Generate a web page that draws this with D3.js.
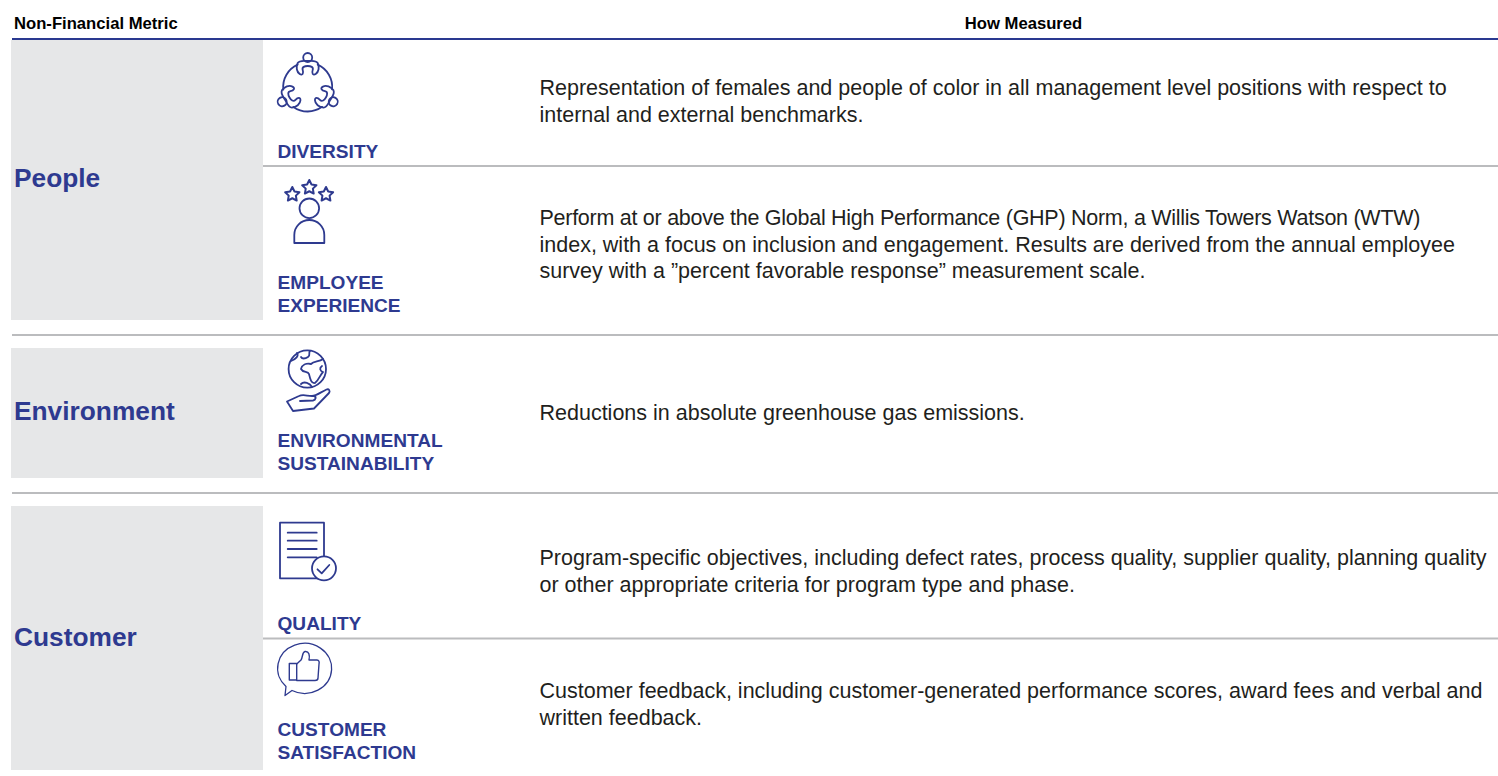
<!DOCTYPE html>
<meta charset="utf-8">
<style>
    html, body { margin: 0; background: #fff; }
    svg { display: block; }
    text { font-family: "Liberation Sans", Arial, sans-serif; }
    .head { font-size: 16.65px; font-weight: bold; fill: #000; }
    .group { font-size: 26.3px; font-weight: bold; fill: #2e3a90; }
    .metric { font-size: 19.1px; font-weight: bold; fill: #2e3a90; }
    .desc { font-size: 21.5px; fill: #1f1f20; }
    .icon * { fill: none; stroke: #2e3a8f; stroke-width: 1.8px; stroke-linejoin: round; stroke-linecap: round; }
</style>
<svg width="1498" height="776"></svg>
<script src="https://d3js.org/d3.v7.min.js"></script>
<script>

    var headers = ["Non-Financial Metric", "How Measured"];
    var groups = ["People", "Environment", "Customer"];
    var metrics = [["DIVERSITY"], ["EMPLOYEE", "EXPERIENCE"], ["ENVIRONMENTAL", "SUSTAINABILITY"], ["QUALITY"], ["CUSTOMER", "SATISFACTION"]];
    var descriptions = [
        ["Representation of females and people of color in all management level positions with respect to", "internal and external benchmarks."],
        ["Perform at or above the Global High Performance (GHP) Norm, a Willis Towers Watson (WTW)", "index, with a focus on inclusion and engagement. Results are derived from the annual employee", "survey with a \u201dpercent favorable response\u201d measurement scale."],
        ["Reductions in absolute greenhouse gas emissions."],
        ["Program-specific objectives, including defect rates, process quality, supplier quality, planning quality", "or other appropriate criteria for program type and phase."],
        ["Customer feedback, including customer-generated performance scores, award fees and verbal and", "written feedback."]
    ];

    // layout, kept apart from the text above
    var groupBands = [[40, 320], [348, 478], [506, 770]];
    var groupMid = [187, 420, 646];
    var metricBase = [158, 289, 447, 630, 736];
    var descBase = [95, 225, 420, 565, 698];
    var rules = [[263, 165], [12, 334], [12, 492], [263, 637.5]];

    var svg = d3.select("svg");

    svg.selectAll(".band").data(groupBands).enter().append("rect")
        .attr("x", 11).attr("width", 252)
        .attr("y", function (d) { return d[0]; })
        .attr("height", function (d) { return d[1] - d[0]; })
        .attr("fill", "#e6e7e8");

    svg.append("rect").attr("x", 12).attr("y", 38).attr("width", 1486).attr("height", 2).attr("fill", "#2a3990");

    svg.selectAll(".rule").data(rules).enter().append("rect")
        .attr("x", function (d) { return d[0]; })
        .attr("y", function (d) { return d[1]; })
        .attr("width", function (d) { return 1498 - d[0]; })
        .attr("height", 2)
        .attr("fill", "#bbbcbe");

    svg.append("text").attr("class", "head").attr("x", 14).attr("y", 29).text(headers[0]);
    svg.append("text").attr("class", "head").attr("x", 1023.5).attr("y", 29).attr("text-anchor", "middle").text(headers[1]);

    svg.selectAll(".group").data(groups).enter().append("text")
        .attr("class", "group")
        .attr("x", 14)
        .attr("y", function (d, i) { return groupMid[i]; })
        .text(function (d) { return d; });

    function lines(cls, rows, x, base, lead) {
        rows.forEach(function (row, i) {
            svg.selectAll("." + cls + i).data(row).enter().append("text")
                .attr("class", cls + " " + cls + i)
                .attr("x", x)
                .attr("y", function (d, j) { return base[i] + j * lead; })
                .text(function (d) { return d; });
        });
    }
    lines("metric", metrics, 277.5, metricBase, 23);
    lines("desc", descriptions, 539.5, descBase, 26.5);

    // the first line of the second row is set tighter in the reference
    svg.select(".desc1").style("letter-spacing", "-0.27px");

    // icons
    var diversity = svg.append("g").attr("class", "icon").attr("transform", "translate(307.7,87)");
    [0, 120, 240].forEach(function (a) {
        var p = diversity.append("g").attr("transform", "rotate(" + a + ")");
        p.append("circle").attr("cy", -29.5).attr("r", 4.5);
        p.append("path").attr("d", "M-8,-13C-11,-15-12,-20-10,-24C-8,-27-4,-26,0,-26C4,-26,8,-27,10,-24C12,-20,11,-15,8,-13C5,-11,4,-14,5,-17C6,-20,3,-21,0,-21C-3,-21-6,-20-5,-17C-4,-14-5,-11-8,-13Z");
        p.append("path").attr("d", d3.arc()({ innerRadius: 24.5, outerRadius: 24.5, startAngle: 0.42, endAngle: 1.67 }));
    });

    var star = svg.append("g").attr("class", "icon");
    function starPath(r) {
        var s = "";
        d3.range(10).forEach(function (i) {
            var a = i * Math.PI / 5, q = i % 2 ? r * 0.5 : r;
            s += (i ? "L" : "M") + (q * Math.sin(a)) + "," + (-q * Math.cos(a));
        });
        return s + "Z";
    }
    [[309.3, 187.5], [292.3, 194.5], [326, 194.5]].forEach(function (c) {
        star.append("path").attr("d", starPath(7.5)).attr("transform", "translate(" + c + ")").style("stroke-width", "2px");
    });
    star.append("circle").attr("cx", 309.3).attr("cy", 208.3).attr("r", 9.8);
    star.append("path").attr("d", "M294.3,243V235A15,15 0 0 1 324.3,235V243Z");

    var globe = svg.append("g").attr("class", "icon");
    globe.append("circle").attr("cx", 307.3).attr("cy", 369).attr("r", 18.7);
    globe.append("path").attr("d", "M310,351C308,353,311,355,308,357C305,359,302,359,301,357M323,359C319,362,314,361,311,364C306,363,302,365,301,369C303,373,308,371,309,374C310,378,311,384,315,383C319,380,320,375,323,372C320,371,319,368,322,366");
    globe.append("path").attr("d", "M297,353C299,356,296,359,291,361M301,384C304,381,310,383,312,387");
    globe.append("path").attr("d", "M287,401.5L299,396C303,394,307,396,312,396C316,396,321,392,326.5,389.5C329,388.5,330.5,391,329,393L314,408.5L293,411L287,401.5ZM300,401L313,400.5C316,400,316.5,396.5,314,396");

    var doc = svg.append("g").attr("class", "icon");
    doc.append("rect").attr("x", 280).attr("y", 522.7).attr("width", 44).attr("height", 55.6);
    [532.7, 540.7, 549, 557.3].forEach(function (y) {
        doc.append("path").attr("d", "M287.7," + y + "H316.7");
    });
    doc.append("circle").attr("cx", 324).attr("cy", 568.3).attr("r", 12).style("fill", "#fff");
    doc.append("path").attr("d", "M317.5,569.3L321.7,573.3L329.3,565");

    var thumb = svg.append("g").attr("class", "icon");
    thumb.append("path").attr("d", "M285,695.5L286,686.5A27,25 0 1 1 292,690.5Z").style("stroke-width", "1.3px");
    thumb.append("rect").attr("x", 289.3).attr("y", 663.5).attr("width", 7.4).attr("height", 16.5).style("stroke-width", "1.4px");
    thumb.append("path").attr("d", "M296.7,664L301,660C303,657,302,652,305,651.5C309,651,310,655,309,660H317C319,660,319.5,662,319,664L318,678C318,680,316,680.5,315,680.5H296.7").style("stroke-width", "1.4px");

</script>
